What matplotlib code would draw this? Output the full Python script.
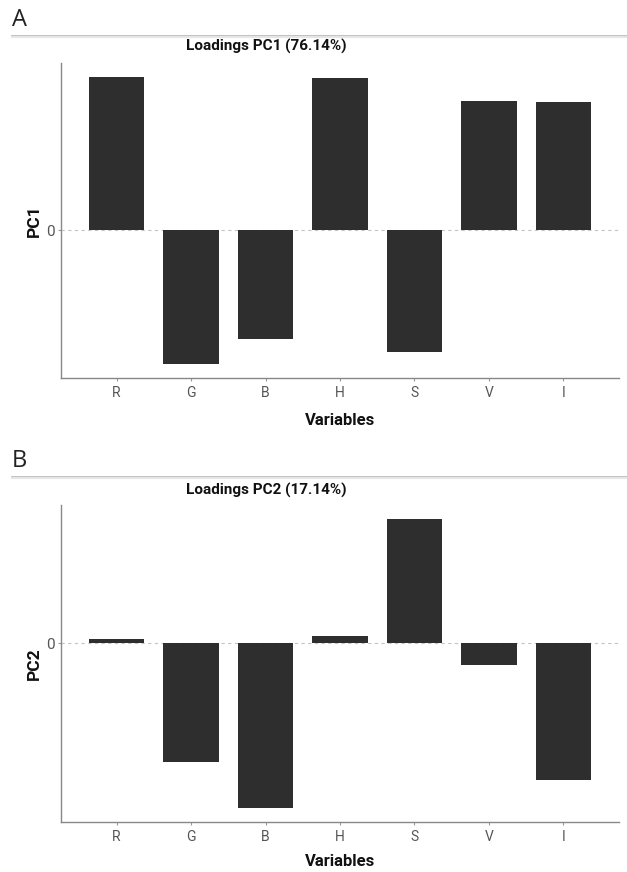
import matplotlib
matplotlib.use("Agg")
import matplotlib.pyplot as plt
from matplotlib.lines import Line2D

variables = ["R", "G", "B", "H", "S", "V", "I"]
pc1 = [0.425, -0.372, -0.303, 0.422, -0.339, 0.358, 0.356]
pc2 = [0.011, -0.328, -0.453, 0.019, 0.342, -0.061, -0.378]
titles = ["Loadings PC1 (76.14%)", "Loadings PC2 (17.14%)"]
ylabels = ["PC1", "PC2"]
panel_labels = ["A", "B"]

plt.rcParams['font.family'] = ['Roboto', 'DejaVu Sans']

W, H = 627, 872
fig = plt.figure(figsize=(W / 100, H / 100), dpi=100)

def fx(px):
    return px / W

def fy(py):
    return 1 - py / H

panels = [
    dict(vals=pc1, top=63, bottom=378, label_y=20, line_y=36, title_y=46, xlab_y=420),
    dict(vals=pc2, top=505, bottom=822, label_y=461, line_y=477, title_y=490, xlab_y=861),
]

for i, p in enumerate(panels):
    ax = fig.add_axes([fx(61), fy(p["bottom"]), fx(619) - fx(61), fy(p["top"]) - fy(p["bottom"])])
    x = list(range(1, len(variables) + 1))
    ax.bar(x, p["vals"], width=0.74, color="#2e2e2e", zorder=3)
    ax.axhline(0, color="#c4c4c4", lw=0.8, ls=(0, (3, 3)), zorder=1)
    lo, hi = min(p["vals"]), max(p["vals"])
    rng = hi - lo
    ax.set_ylim(lo - 0.05 * rng, hi + 0.05 * rng)
    ax.set_xlim(0.254, 7.746)
    ax.set_xticks(x)
    ax.set_xticklabels(variables, color="#555555", fontsize=10)
    ax.set_yticks([0])
    ax.set_yticklabels(["0"], color="#555555", fontsize=11)
    ax.tick_params(axis="both", length=2.5, color="#999999", width=0.8, pad=3)
    ax.tick_params(axis="y", pad=2)
    for s in ["top", "right"]:
        ax.spines[s].set_visible(False)
    for s in ["left", "bottom"]:
        ax.spines[s].set_color("#888888")
        ax.spines[s].set_linewidth(1.0)
    mid = (p["top"] + p["bottom"]) / 2
    fig.text(fx(34), fy(mid), ylabels[i], fontweight="bold", fontsize=12.5,
             rotation=90, ha="center", va="center", color="#111111")
    fig.text(fx(340), fy(p["xlab_y"]), "Variables", fontweight="bold", fontsize=12,
             ha="center", va="center", color="#111111")
    fig.text(fx(266), fy(p["title_y"]), titles[i], fontweight="bold", fontsize=11,
             ha="center", va="center", color="#111111")
    fig.text(fx(12), fy(p["label_y"]), panel_labels[i], fontsize=17, family=["Open Sans", "DejaVu Sans"],
             ha="left", va="center", color="#222222")
    fig.add_artist(Line2D([fx(12), 1.0], [fy(p["line_y"]), fy(p["line_y"])],
                          color="#b5b5b5", lw=1.2, transform=fig.transFigure))
    fig.add_artist(Line2D([fx(12), 1.0], [fy(p["line_y"] + 1.5), fy(p["line_y"] + 1.5)],
                          color="#e6e6e6", lw=1.5, transform=fig.transFigure))

fig.savefig("out.png", dpi=100)
